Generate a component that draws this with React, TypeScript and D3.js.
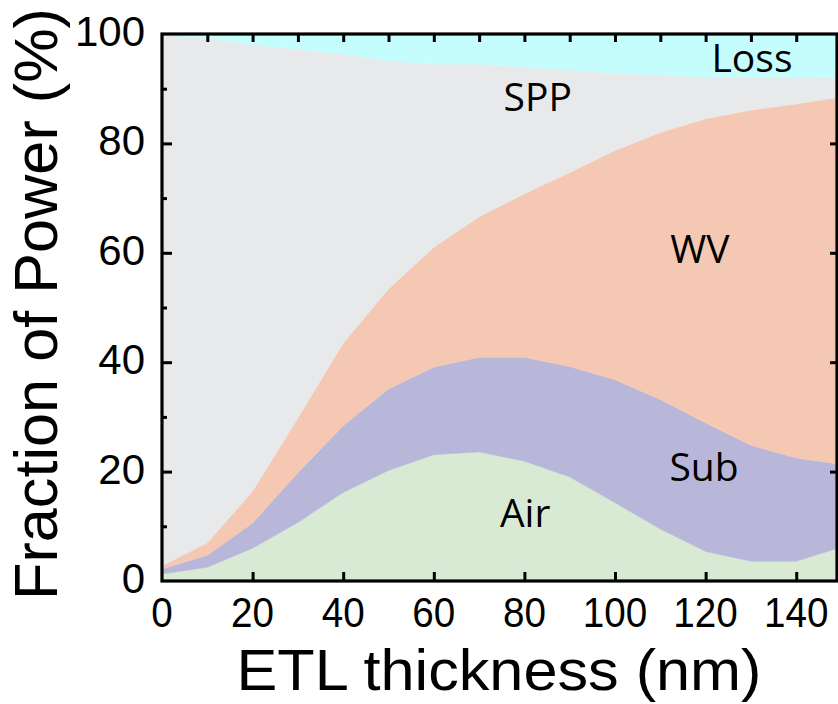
import React, { useEffect, useRef } from "react";
import * as d3 from "d3";

// ETL thickness (nm)
const thickness = [0, 10, 20, 30, 40, 50, 60, 70, 80, 90, 100, 110, 120, 130, 140, 150];
// fraction of power per channel (%), stacked bottom -> top
const air = [1.3, 2.5, 6.0, 10.7, 16.2, 20.2, 23.1, 23.6, 21.9, 19.0, 14.3, 9.5, 5.4, 3.6, 3.6, 6.2];
const sub = [0.9, 2.2, 4.6, 9.1, 12.2, 14.9, 16.0, 17.3, 19.0, 20.2, 22.5, 23.7, 23.5, 21.2, 18.9, 15.1];
const wv = [0.6, 2.3, 5.8, 10.0, 15.1, 18.3, 21.9, 25.7, 29.9, 35.5, 41.9, 48.8, 55.6, 61.3, 64.7, 67.2];
const spp = [97.0, 92.3, 81.6, 67.4, 52.8, 41.7, 33.5, 27.9, 23.1, 18.7, 14.1, 10.5, 7.6, 6.0, 4.9, 3.5];
const loss = [0.2, 0.7, 2.0, 2.8, 3.7, 4.9, 5.5, 5.5, 6.1, 6.6, 7.2, 7.5, 7.9, 7.9, 7.9, 8.0];

const keys = ["air", "sub", "wv", "spp", "loss"];
const colors = ["#d9ead4", "#b8b7d9", "#f5c8b4", "#e8e9eb", "#c5fdfd"];

const xTicks = [0, 20, 40, 60, 80, 100, 120, 140];
const yTicks = [0, 20, 40, 60, 80, 100];

// region labels, in data units (x = start, y = baseline)
const labels = [
  { text: "Loss", x: 121.3, y: 93.0 },
  { text: "SPP", x: 75.4, y: 86.0 },
  { text: "WV", x: 112.2, y: 58.1 },
  { text: "Sub", x: 112.0, y: 18.2 },
  { text: "Air", x: 74.6, y: 9.8 },
];

const width = 838;
const height = 704;

export default function App() {
  const svgRef = useRef<SVGSVGElement>(null);

  useEffect(() => {
    const svg = d3.select(svgRef.current);
    svg.selectAll("*").remove();

    const left = 162;
    const right = 837;
    const top = 34;
    const bottom = 581;

    const x = d3.scaleLinear().domain([0, 149]).range([left, right]);
    const y = d3.scaleLinear().domain([0, 100]).range([bottom, top]);

    const rows = thickness.map((t, i) => ({
      t,
      air: air[i],
      sub: sub[i],
      wv: wv[i],
      spp: spp[i],
      loss: loss[i],
    }));
    const series = d3.stack<any>().keys(keys)(rows);

    svg
      .append("defs")
      .append("clipPath")
      .attr("id", "plot-clip")
      .append("rect")
      .attr("x", left)
      .attr("y", top)
      .attr("width", right - left)
      .attr("height", bottom - top);

    const area = d3
      .area<any>()
      .x((d) => x(d.data.t))
      .y0((d) => y(d[0]))
      .y1((d) => y(d[1]));

    svg
      .append("g")
      .attr("clip-path", "url(#plot-clip)")
      .selectAll("path")
      .data(series)
      .join("path")
      .attr("d", area as any)
      .attr("fill", (d, i) => colors[i])
      .attr("stroke", (d, i) => colors[i])
      .attr("stroke-width", 0.5);

    // region labels
    svg
      .append("g")
      .selectAll("text")
      .data(labels)
      .join("text")
      .attr("x", (d) => x(d.x))
      .attr("y", (d) => y(d.y))
      .attr("font-family", "'Open Sans', 'Noto Sans', sans-serif")
      .attr("font-size", 39)
      .attr("fill", "#000")
      .text((d) => d.text);

    const tickStyle = (g) =>
      g
        .call((g) => g.select(".domain").remove())
        .selectAll("line")
        .attr("stroke", "#000")
        .attr("stroke-width", 3);

    // bottom axis: major ticks pointing in
    svg
      .append("g")
      .attr("transform", `translate(0, ${bottom})`)
      .call(d3.axisBottom(x).tickValues(xTicks.slice(1)).tickSizeInner(-9).tickSizeOuter(0).tickFormat(() => ""))
      .call(tickStyle);

    // top axis: every 10 nm
    svg
      .append("g")
      .attr("transform", `translate(0, ${top})`)
      .call(d3.axisTop(x).tickValues(d3.range(10, 150, 10)).tickSizeInner(-8).tickSizeOuter(0).tickFormat(() => ""))
      .call(tickStyle);

    // left axis: majors + minors
    svg
      .append("g")
      .attr("transform", `translate(${left}, 0)`)
      .call(d3.axisLeft(y).tickValues([20, 40, 60, 80]).tickSizeInner(-10).tickSizeOuter(0).tickFormat(() => ""))
      .call(tickStyle);
    svg
      .append("g")
      .attr("transform", `translate(${left}, 0)`)
      .call(d3.axisLeft(y).tickValues([10, 30, 50, 70, 90]).tickSizeInner(-5).tickSizeOuter(0).tickFormat(() => ""))
      .call(tickStyle);

    // right axis
    svg
      .append("g")
      .attr("transform", `translate(${right}, 0)`)
      .call(d3.axisRight(y).tickValues([20, 40, 60, 80]).tickSizeInner(-7).tickSizeOuter(0).tickFormat(() => ""))
      .call(tickStyle);

    // frame
    svg
      .append("rect")
      .attr("x", left)
      .attr("y", top)
      .attr("width", right - left)
      .attr("height", bottom - top)
      .attr("fill", "none")
      .attr("stroke", "#000")
      .attr("stroke-width", 3.2);

    // tick labels
    svg
      .append("g")
      .selectAll("text")
      .data(xTicks)
      .join("text")
      .attr("x", (d) => x(d))
      .attr("y", 627)
      .attr("text-anchor", "middle")
      .attr("font-family", "'Liberation Sans', Arial, sans-serif")
      .attr("font-size", 42)
      .attr("textLength", (d) => String(d).length * 21.5)
      .attr("lengthAdjust", "spacingAndGlyphs")
      .text((d) => d);

    svg
      .append("g")
      .selectAll("text")
      .data(yTicks)
      .join("text")
      .attr("x", 145)
      .attr("y", (d) => y(d) + 12)
      .attr("text-anchor", "end")
      .attr("font-family", "'Liberation Sans', Arial, sans-serif")
      .attr("font-size", 42)
      .text((d) => d);

    // axis titles
    svg
      .append("text")
      .attr("x", 499)
      .attr("y", 690)
      .attr("text-anchor", "middle")
      .attr("font-family", "'Liberation Sans', Arial, sans-serif")
      .attr("font-size", 57)
      .attr("textLength", 525)
      .attr("lengthAdjust", "spacingAndGlyphs")
      .text("ETL thickness (nm)");

    svg
      .append("text")
      .attr("transform", "translate(57, 304) rotate(-90)")
      .attr("text-anchor", "middle")
      .attr("font-family", "'Liberation Sans', Arial, sans-serif")
      .attr("font-size", 61)
      .attr("textLength", 592)
      .attr("lengthAdjust", "spacingAndGlyphs")
      .text("Fraction of Power (%)");
  }, []);

  return (
    <svg
      ref={svgRef}
      width={width}
      height={height}
      style={{ position: "absolute", left: 0, top: 0, background: "#fff" }}
    ></svg>
  );
}
